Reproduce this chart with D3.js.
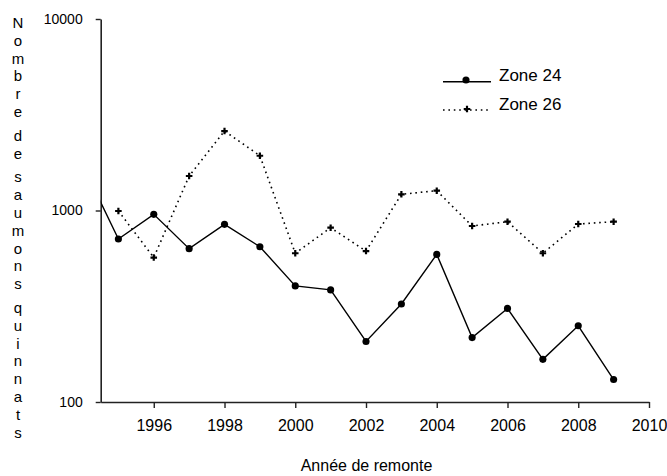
<!DOCTYPE html>
<html>
<head>
<meta charset="utf-8">
<script src="https://cdn.jsdelivr.net/npm/d3@7"></script>
<style>
  body { margin: 0; background: #fff; }
  text { font-family: "Liberation Sans", Arial, sans-serif; fill: #000; }
</style>
</head>
<body>
<div id="chart"></div>
<script>
var width = 667
var height = 476
var plot = {left: 100.7, right: 649, top: 19, bottom: 402}

// data (zone 24 starts before the axis and is clipped)
var years24 = [1994, 1995, 1996, 1997, 1998, 1999, 2000, 2001, 2002, 2003, 2004, 2005, 2006, 2007, 2008, 2009]
var zone24 = [1716, 710, 955, 632, 847, 647, 404, 385, 207, 325, 590, 217, 308, 167, 250, 131]
var years26 = [1995, 1996, 1997, 1998, 1999, 2000, 2001, 2002, 2003, 2004, 2005, 2006, 2007, 2008, 2009]
var zone26 = [994, 568, 1514, 2600, 1932, 598, 813, 614, 1215, 1269, 830, 874, 598, 850, 874]
var xTicks = [1996, 1998, 2000, 2002, 2004, 2006, 2008, 2010]
var yTicks = [100, 1000, 10000]
var yLabel = "Nombre de saumons quinnats"
var xLabel = "Année de remonte"
var legendNames = ["Zone 24", "Zone 26"]

var svg = d3.select('#chart')
  .append('svg')
  .attr('width', width)
  .attr('height', height)

var x = d3.scaleLinear().domain([1994.5, 2010]).range([plot.left, plot.right])
var y = d3.scaleLog().domain([100, 10000]).range([plot.bottom, plot.top])

svg.append('clipPath').attr('id', 'clip')
  .append('rect')
  .attr('x', plot.left).attr('y', 0)
  .attr('width', plot.right - plot.left).attr('height', plot.bottom)

// axes
var yAxis = d3.axisLeft(y).tickValues(yTicks).tickFormat(d3.format('d'))
  .tickSize(5).tickSizeOuter(0).tickPadding(13)
svg.append('g')
  .attr('transform', 'translate(' + plot.left + ',0)')
  .call(yAxis)
  .call(function(g) {
    g.select('.domain').attr('stroke', '#222').attr('stroke-width', 1.6)
    g.selectAll('line').attr('stroke', '#222').attr('stroke-width', 1.4)
    g.selectAll('text').style('font-size', '14px')
  })

var xAxis = d3.axisBottom(x).tickValues(xTicks).tickFormat(d3.format('d'))
  .tickSize(6).tickSizeOuter(0).tickPadding(12)
svg.append('g')
  .attr('transform', 'translate(0,' + plot.bottom + ')')
  .call(xAxis)
  .call(function(g) {
    g.select('.domain').attr('stroke', '#222').attr('stroke-width', 1.6)
    g.selectAll('line').attr('stroke', '#222').attr('stroke-width', 1.4)
    g.selectAll('text').style('font-size', '16px')
  })

// lines
var line = d3.line()
  .x(function(d) { return x(d[0]) })
  .y(function(d) { return y(d[1]) })

var pts24 = years24.map(function(yr, i) { return [yr, zone24[i]] })
var pts26 = years26.map(function(yr, i) { return [yr, zone26[i]] })

svg.append('path')
  .datum(pts26)
  .attr('d', line)
  .attr('fill', 'none')
  .attr('stroke', '#000')
  .attr('stroke-width', 1.6)
  .attr('stroke-dasharray', '1.6,3.8')

svg.append('path')
  .datum(pts24)
  .attr('clip-path', 'url(#clip)')
  .attr('d', line)
  .attr('fill', 'none')
  .attr('stroke', '#000')
  .attr('stroke-width', 1.4)

// markers
var cross = d3.symbol().type(d3.symbolCross).size(24)
var dot = d3.symbol().type(d3.symbolCircle).size(40)

svg.selectAll('.m26')
  .data(pts26)
  .enter()
  .append('path')
  .attr('class', 'm26')
  .attr('d', cross)
  .attr('transform', function(d) { return 'translate(' + x(d[0]) + ',' + y(d[1]) + ')' })
  .attr('fill', '#000')

svg.selectAll('.m24')
  .data(pts24.filter(function(d) { return d[0] >= 1995 }))
  .enter()
  .append('path')
  .attr('class', 'm24')
  .attr('d', dot)
  .attr('transform', function(d) { return 'translate(' + x(d[0]) + ',' + y(d[1]) + ')' })
  .attr('fill', '#000')

// legend
var legend = svg.append('g')
legend.append('line')
  .attr('x1', 443).attr('x2', 491).attr('y1', 81.7).attr('y2', 81.7)
  .attr('stroke', '#000').attr('stroke-width', 1.4)
legend.append('path').attr('d', dot).attr('transform', 'translate(466,80)')
legend.append('line')
  .attr('x1', 443).attr('x2', 491).attr('y1', 110).attr('y2', 110)
  .attr('stroke', '#000').attr('stroke-width', 1.6).attr('stroke-dasharray', '1.6,3.8')
legend.append('path').attr('d', cross).attr('transform', 'translate(467,109)')
legend.selectAll('.lg')
  .data(legendNames)
  .enter()
  .append('text')
  .attr('x', 499)
  .attr('y', function(d, i) { return 81 + i * 29 })
  .style('font-size', '17px')
  .text(function(d) { return d })

// x title
svg.append('text')
  .attr('x', 366.5)
  .attr('y', 471)
  .attr('text-anchor', 'middle')
  .style('font-size', '16px')
  .text(xLabel)

// y title, one upright letter per row
var yl = svg.append('text')
  .attr('text-anchor', 'middle')
  .style('font-size', '15px')
var pos = 28
yLabel.split('').forEach(function(ch) {
  if (ch == ' ') {
    pos += 6
    return
  }
  yl.append('tspan').attr('x', 18).attr('y', pos).text(ch)
  pos += 17.8
})
</script>
</body>
</html>
